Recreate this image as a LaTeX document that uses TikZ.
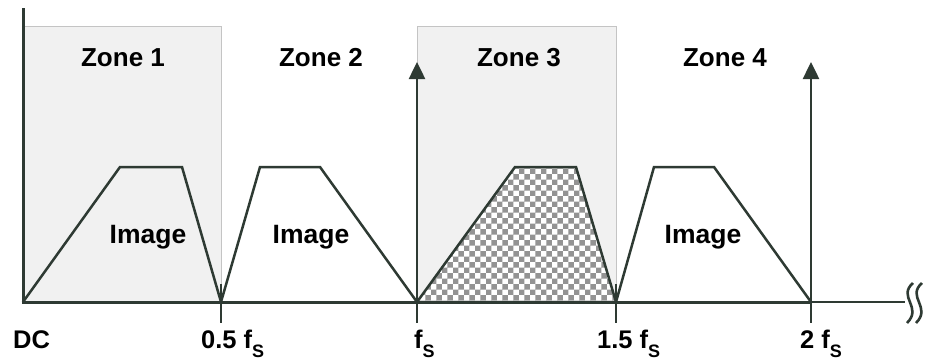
\documentclass[tikz,border=0pt]{standalone}
\usepackage{fontspec}
\setmainfont{Liberation Sans}
\usetikzlibrary{patterns,arrows.meta}
\definecolor{ax}{HTML}{2E3A33}
\definecolor{zonefill}{HTML}{F1F1F1}
\definecolor{zoneedge}{HTML}{C4C4C4}
\tikzset{
  zonebox/.style={fill=zonefill,draw=zoneedge,line width=1pt},
  axline/.style={draw=ax,line width=3pt},
  thinax/.style={draw=ax,line width=2pt},
  trap/.style={draw=ax,line width=2.5pt,line join=miter},
  tickmark/.style={draw=ax,line width=2.5pt},
  spike/.style={draw=ax,line width=2.5pt,-{Triangle[length=17pt,width=16pt]}},
  zonelabel/.style={font=\bfseries\fontsize{26}{28}\selectfont,anchor=base,inner sep=0pt},
  imglabel/.style={font=\bfseries\fontsize{26.5}{28}\selectfont,anchor=base,inner sep=0pt},
  ticklabel/.style={font=\bfseries\fontsize{25.5}{28}\selectfont,anchor=base west,inner sep=0pt},
}
\newcommand{\fsub}{f\raisebox{-9pt}{\fontsize{18}{20}\selectfont S}}
\begin{document}
\begin{tikzpicture}[x=1pt,y=-1pt]
\useasboundingbox (0,0) rectangle (927,362);
% zones
\fill[zonebox] (23,26) rectangle (221,302);
\fill[zonebox] (417,26) rectangle (616,302);
\draw[draw=zoneedge,line width=1pt] (23,26) -- (221,26) -- (221,302);
\draw[draw=zoneedge,line width=1pt] (417,26) -- (616,26) -- (616,302);
% coordinates
\coordinate (dc) at (23,302);
\coordinate (h) at (221,302);
\coordinate (f1) at (417,302);
\coordinate (h3) at (616,302);
\coordinate (f2) at (811,302);
\coordinate (axend) at (905,302);
\coordinate (ytop) at (23,8);
\coordinate (f1top) at (417,62);
\coordinate (f2top) at (811,62);
% checker trapezoid
\fill[white] (f1) -- (515,167) -- (576,167) -- (h3) -- cycle;
\fill[pattern=checkerboard,pattern color=gray!85] (f1) -- (515,167) -- (576,167) -- (h3) -- cycle;
% trapezoids
\draw[trap] (dc) -- (120,167) -- (182,167) -- (h);
\draw[trap] (h) -- (260,167) -- (320,167) -- (f1);
\draw[trap] (f1) -- (515,167) -- (576,167) -- (h3);
\draw[trap] (h3) -- (654,167) -- (714,167) -- (f2);
% small ticks above
\draw[tickmark,line width=2pt] (h) -- ++(0,-18);
\draw[tickmark,line width=2pt] (h3) -- ++(0,-18);
% ticks below
\foreach \p in {h,f1,h3,f2} \draw[tickmark] (\p) -- ++(0,21);
% spikes
\draw[spike] (f1) -- (f1top);
\draw[spike] (f2) -- (f2top);
% axes
\draw[axline] (ytop) -- (dc);
\draw[axline,line cap=butt] ([xshift=-1.5pt]dc) -- (f2);
\draw[thinax] (f2) -- (axend);
% break symbol
\draw[thinax,line width=2.6pt] (913,283) .. controls (897,297) and (923,307) .. (907,323);
\draw[thinax,line width=2.6pt] (922,283) .. controls (906,297) and (932,307) .. (916,323);
% labels
\node[zonelabel] (z1) at (123,66) {Zone 1};
\node[zonelabel] (z2) at (321,66) {Zone 2};
\node[zonelabel] (z3) at (519,66) {Zone 3};
\node[zonelabel] (z4) at (725,66) {Zone 4};
\node[imglabel] (i1) at (148,243) {Image};
\node[imglabel] (i2) at (311,243) {Image};
\node[imglabel] (i4) at (703,243) {Image};
\node[ticklabel] (ldc) at (13,348) {DC};
\node[ticklabel] (lh) at (201,348) {0.5 \fsub};
\node[ticklabel] (lf1) at (414,348) {\fsub};
\node[ticklabel] (lh3) at (597,348) {1.5 \fsub};
\node[ticklabel] (lf2) at (800,348) {2 \fsub};
\end{tikzpicture}
\end{document}
